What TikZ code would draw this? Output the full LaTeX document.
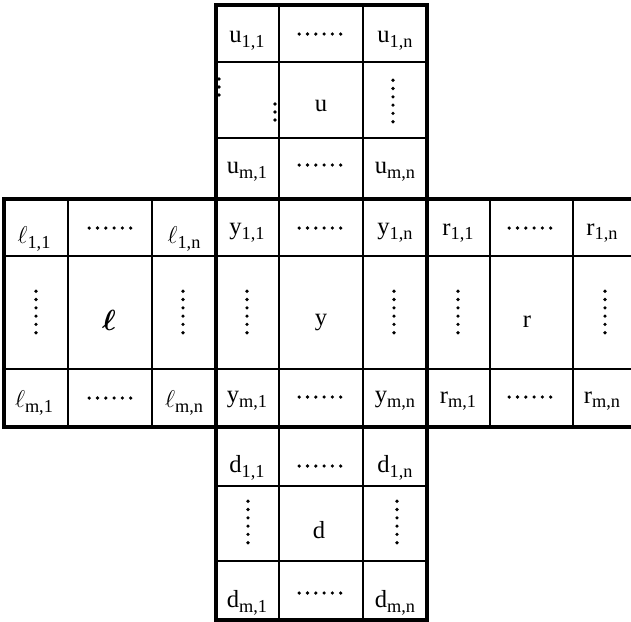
\documentclass[tikz,border=0pt]{standalone}
\usepackage{fontspec}
\setmainfont{Liberation Serif}
\usepackage{bm}

% label with a subscript, and the two dot rows
\newcommand\ix[2]{#1\raisebox{-0.4ex}{\fontsize{13}{14}\selectfont #2}}
\newcommand\hdotrow[2]{\foreach \k in {0,...,5} \fill (#1-20.8+8.3*\k,#2) circle (1.8);}
\newcommand\vdotcol[2]{\foreach \k in {0,...,5} \fill (#1,#2-20.8+8.3*\k) circle (1.8);}

\begin{document}
\begin{tikzpicture}[
  x=0.025cm,y=-0.025cm,
  font=\fontsize{17.5}{19}\selectfont,
  frame/.style={line width=2.2pt,line cap=rect},
  gridline/.style={line width=0.8pt},
  cell/.style={inner sep=0pt,anchor=center}
]
\useasboundingbox (0,0) rectangle (631,621);

% Thin grid lines
\draw[gridline] (68,199) -- (68,427) (152,199) -- (152,427);
\draw[gridline] (279,5) -- (279,620) (363,5) -- (363,620);
\draw[gridline] (490,199) -- (490,427) (573,199) -- (573,427);
\draw[gridline] (216,62) -- (427,62) (216,138) -- (427,138);
\draw[gridline] (4,256) -- (631,256) (4,369) -- (631,369);
\draw[gridline] (216,486) -- (427,486) (216,561) -- (427,561);

% Thick outline of the cross
\draw[frame] (216,5) -- (427,5);
\draw[frame] (216,5) -- (216,620) (427,5) -- (427,620);
\draw[frame] (4,199) -- (4,427);
\draw[frame] (4,199) -- (631,199) (4,427) -- (631,427);
\draw[frame] (216,620) -- (427,620);

% Upper block
\node[cell] (u11) at (247,41) {\ix{u}{1,1}};
\node[cell] (u1n) at (395,41) {\ix{u}{1,n}};
\node[cell] (uc)  at (321,106) {u};
\node[cell] (um1) at (247,172) {\ix{u}{m,1}};
\node[cell] (umn) at (395,172) {\ix{u}{m,n}};
\hdotrow{320}{34}
\hdotrow{320}{165}
\vdotcol{393}{101}
\foreach \k in {0,1,2} \fill (219,79+8*\k) circle (1.8);
\foreach \k in {0,1,2} \fill (275,104+8*\k) circle (1.8);

% Left block
\node[cell] (l11) at (34,239) {$\ell$\raisebox{-0.4ex}{\fontsize{13}{14}\selectfont 1,1}};
\node[cell] (l1n) at (184,239) {$\ell$\raisebox{-0.4ex}{\fontsize{13}{14}\selectfont 1,n}};
\node[cell] (lc)  at (109,320) {\fontsize{21}{22}\selectfont$\bm{\ell}$};
\node[cell] (lm1) at (34,403) {$\ell$\raisebox{-0.4ex}{\fontsize{13}{14}\selectfont m,1}};
\node[cell] (lmn) at (184,403) {$\ell$\raisebox{-0.4ex}{\fontsize{13}{14}\selectfont m,n}};
\hdotrow{110}{228}
\hdotrow{110}{398}
\vdotcol{36}{312}
\vdotcol{183}{312}

% Middle block
\node[cell] (y11) at (247,233) {\ix{y}{1,1}};
\node[cell] (y1n) at (395,233) {\ix{y}{1,n}};
\node[cell] (yc)  at (321,322) {y};
\node[cell] (ym1) at (247,401) {\ix{y}{m,1}};
\node[cell] (ymn) at (395,401) {\ix{y}{m,n}};
\hdotrow{320}{228}
\hdotrow{320}{397}
\vdotcol{247}{312}
\vdotcol{394}{312}

% Right block
\node[cell] (r11) at (458,233) {\ix{r}{1,1}};
\node[cell] (r1n) at (602,233) {\ix{r}{1,n}};
\node[cell] (rc)  at (527,322) {r};
\node[cell] (rm1) at (458,401) {\ix{r}{m,1}};
\node[cell] (rmn) at (602,401) {\ix{r}{m,n}};
\hdotrow{530}{228}
\hdotrow{530}{397}
\vdotcol{458}{312}
\vdotcol{605}{312}

% Lower block
\node[cell] (d11) at (247,468) {\ix{d}{1,1}};
\node[cell] (d1n) at (395,468) {\ix{d}{1,n}};
\node[cell] (dc)  at (319,530) {d};
\node[cell] (dm1) at (247,603) {\ix{d}{m,1}};
\node[cell] (dmn) at (395,603) {\ix{d}{m,n}};
\hdotrow{320}{466}
\hdotrow{320}{593}
\vdotcol{248}{522}
\vdotcol{397}{522}

\end{tikzpicture}
\end{document}
